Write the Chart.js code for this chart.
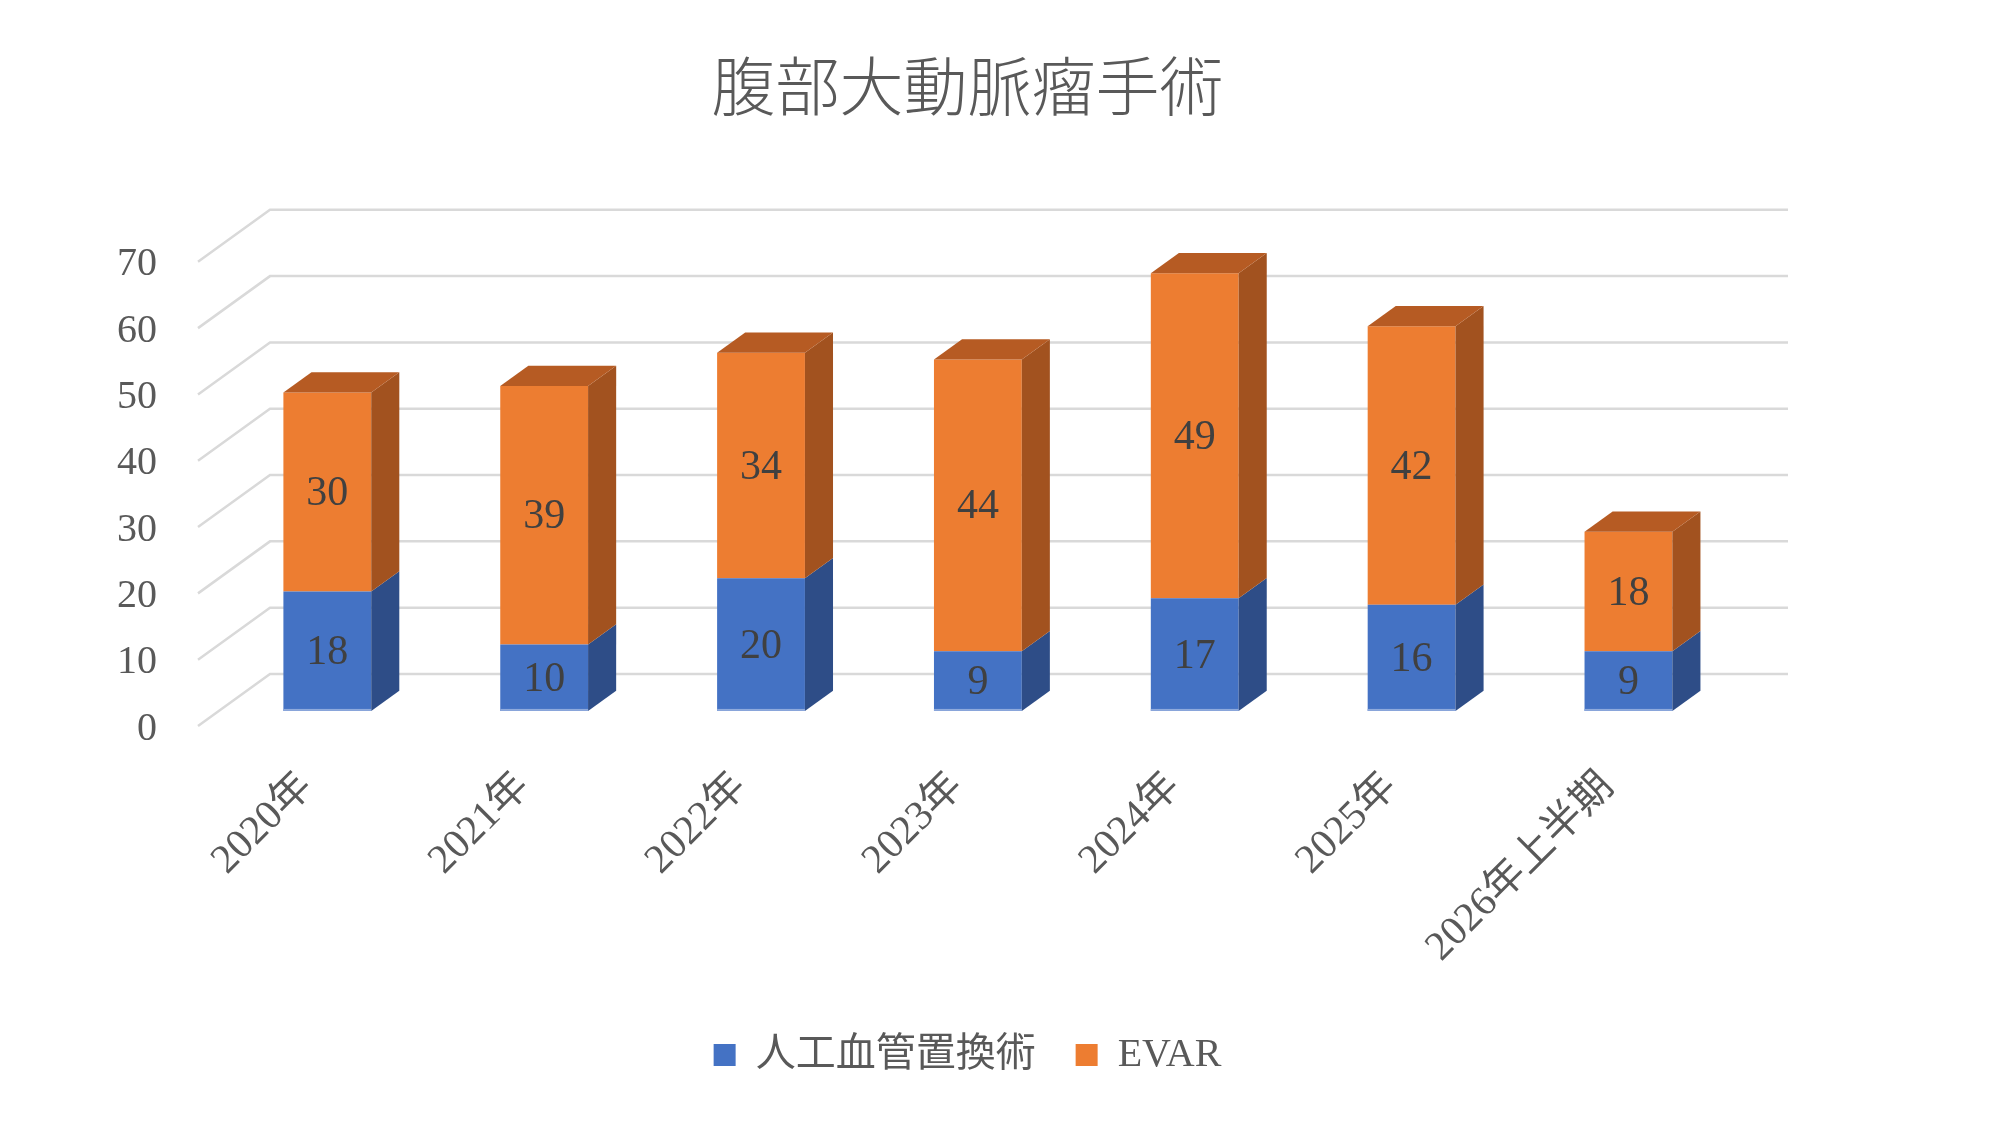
<!DOCTYPE html>
<html><head><meta charset="utf-8">
<script src="https://cdn.jsdelivr.net/npm/chart.js@4.4.1/dist/chart.umd.min.js"></script>
<style>html,body{margin:0;padding:0;background:#fff}#wrap{width:2000px;height:1125px}</style>
</head><body><div id="wrap"><canvas id="c" width="2000" height="1125"></canvas></div>
<script>
// ---- data ----
const categories = ['2020年', '2021年', '2022年', '2023年', '2024年', '2025年', '2026年上半期'];
const graftValues = [18, 10, 20, 9, 17, 16, 9];
const evarValues = [30, 39, 34, 44, 49, 42, 18];
const seriesNames = ['人工血管置換術', 'EVAR'];
const chartTitle = '腹部大動脈瘤手術';
const yMin = 0, yMax = 70, yStep = 10;

// ---- style ----
const SERIF = "'Liberation Serif', 'Noto Sans CJK JP', serif";
const DEPTH = {x: 72, y: -52};   // full depth of the 3D box
const FRONT = 0.29;              // bar front plane offset (fraction of depth)
const BAR_D = 0.39;              // bar depth (fraction of depth)

function poly(ctx, pts) {
  ctx.beginPath();
  ctx.moveTo(pts[0][0], pts[0][1]);
  for (let i = 1; i < pts.length; i++) ctx.lineTo(pts[i][0], pts[i][1]);
  ctx.closePath();
  ctx.fill();
}

const threeD = {
  id: 'threeD',
  beforeDatasetsDraw(chart) {
    const {ctx, chartArea: a, scales: {y}} = chart;
    ctx.save();
    ctx.strokeStyle = '#D9D9D9';
    ctx.lineWidth = 2.5;
    y.ticks.forEach(t => {
      const py = y.getPixelForValue(t.value);
      ctx.beginPath();
      ctx.moveTo(a.left, py);
      ctx.lineTo(a.left + DEPTH.x, py + DEPTH.y);
      ctx.lineTo(a.right + DEPTH.x, py + DEPTH.y);
      ctx.stroke();
    });
    ctx.restore();
    ctx.save();
    ctx.translate(DEPTH.x * FRONT, DEPTH.y * FRONT);
  },
  afterDatasetsDraw(chart) {
    const ctx = chart.ctx;
    const dx = DEPTH.x * BAR_D, dy = DEPTH.y * BAR_D;
    const n = chart.data.datasets.length;
    chart.data.datasets.forEach((ds, di) => {
      const meta = chart.getDatasetMeta(di);
      meta.data.forEach((bar) => {
        const p = bar.getProps(['x', 'y', 'base', 'width'], true);
        const L = p.x - p.width / 2, R = p.x + p.width / 2;
        const T = Math.min(p.y, p.base), B = Math.max(p.y, p.base);
        ctx.fillStyle = ds.sideColor;
        poly(ctx, [[R, T], [R + dx, T + dy], [R + dx, B + dy], [R, B]]);
        if (di === n - 1) {
          ctx.fillStyle = ds.topColor;
          poly(ctx, [[L, T], [L + dx, T + dy], [R + dx, T + dy], [R, T]]);
        }
        if (di === 0) {
          ctx.fillStyle = ds.edgeColor;
          ctx.fillRect(L, B - 2, p.width, 2);
        }
      });
    });
    ctx.font = '42px ' + SERIF;
    ctx.fillStyle = '#404040';
    ctx.textAlign = 'center';
    ctx.textBaseline = 'middle';
    chart.data.datasets.forEach((ds, di) => {
      const meta = chart.getDatasetMeta(di);
      meta.data.forEach((bar, i) => {
        const p = bar.getProps(['x', 'y', 'base'], true);
        ctx.fillText(String(ds.data[i]), p.x, (p.y + p.base) / 2 + 2);
      });
    });
    ctx.restore();
  }
};

new Chart(document.getElementById('c'), {
  type: 'bar',
  data: {
    labels: categories,
    datasets: [
      {label: seriesNames[0], data: graftValues, backgroundColor: '#4472C4',
       sideColor: '#2E4D87', topColor: '#3A62AB', edgeColor: '#8FAADC',
       categoryPercentage: 1, barPercentage: 0.405},
      {label: seriesNames[1], data: evarValues, backgroundColor: '#ED7D31',
       sideColor: '#A2521F', topColor: '#B65B23', edgeColor: '#F4B183',
       categoryPercentage: 1, barPercentage: 0.405}
    ]
  },
  options: {
    responsive: false,
    animation: false,
    devicePixelRatio: 1,
    layout: {padding: {left: 0, right: 65, top: 0, bottom: 40}},
    plugins: {
      title: {display: true, text: chartTitle, color: '#595959',
        font: {size: 64, family: "'Noto Sans CJK JP', sans-serif", weight: '300'},
        padding: {top: 47, bottom: 138}},
      legend: {position: 'bottom',
        labels: {color: '#595959', font: {size: 40, family: SERIF},
          boxWidth: 22, boxHeight: 22, padding: 40}},
      tooltip: {enabled: false}
    },
    scales: {
      x: {stacked: true,
        grid: {display: false, drawTicks: false}, border: {display: false},
        ticks: {font: {size: 41, family: SERIF}, color: '#595959',
          minRotation: 45, maxRotation: 45, autoSkip: false, padding: 37},
        afterFit(s) { s.height = 269; }},
      y: {stacked: true, min: yMin, max: yMax,
        grid: {display: false, drawTicks: false}, border: {display: false},
        ticks: {stepSize: yStep, font: {size: 40, family: SERIF}, color: '#595959',
          padding: 41, labelOffset: 3},
        afterFit(s) { s.width = 198; }},
      yR: {axis: 'y', position: 'right', display: true,
        grid: {display: false, drawTicks: false}, border: {display: false},
        ticks: {display: false},
        afterFit(s) { s.width = 219; }}
    }
  },
  plugins: [threeD]
});
</script>
</body></html>
